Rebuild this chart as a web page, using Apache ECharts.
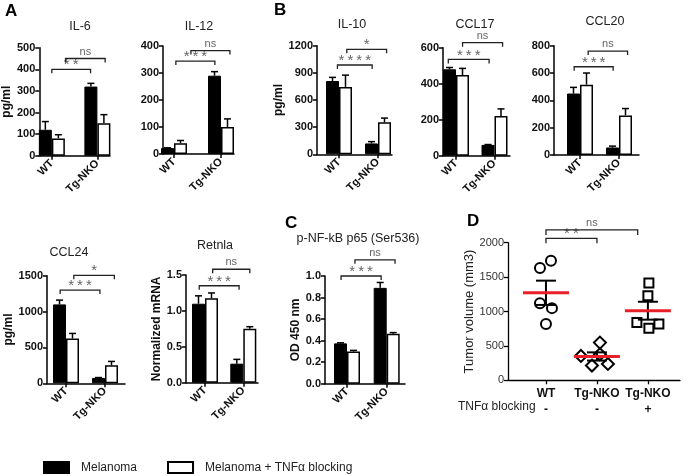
<!DOCTYPE html>
<html><head><meta charset="utf-8">
<script src="https://cdn.jsdelivr.net/npm/echarts/dist/echarts.min.js"></script>
<style>html,body{margin:0;padding:0;background:#fff}#c{width:683px;height:476px}</style>
</head><body><div id="c"></div>
<script>
// ---------- DATA ----------
const groups = ['WT', 'Tg-NKO'];
const seriesNames = ['Melanoma', 'Melanoma + TNFα blocking'];

const il6Mel = [120, 320], il6MelErr = [158, 335], il6Blk = [80, 150], il6BlkErr = [97, 190];
const il6Sig = ['**', 'ns'], il6SigY = [400, 450];

const il12Mel = [22, 290], il12MelErr = [23, 305], il12Blk = [40, 100], il12BlkErr = [50, 130];
const il12Sig = ['***', 'ns'], il12SigY = [344, 383];

const il10Mel = [810, 120], il10MelErr = [850, 140], il10Blk = [745, 355], il10BlkErr = [875, 400];
const il10Sig = ['****', '*'], il10SigY = [987, 1160];

const ccl17Mel = [480, 60], ccl17MelErr = [490, 62], ccl17Blk = [448, 220], ccl17BlkErr = [485, 260];
const ccl17Sig = ['***', 'ns'], ccl17SigY = [535, 628];

const ccl20Mel = [450, 55], ccl20MelErr = [495, 65], ccl20Blk = [515, 290], ccl20BlkErr = [600, 340];
const ccl20Sig = ['***', 'ns'], ccl20SigY = [646, 761];

const ccl24Mel = [1100, 75], ccl24MelErr = [1160, 80], ccl24Blk = [625, 250], ccl24BlkErr = [695, 305];
const ccl24Sig = ['***', '*'], ccl24SigY = [1300, 1505];

const retMel = [1.10, 0.265], retMelErr = [1.21, 0.325], retBlk = [1.175, 0.75], retBlkErr = [1.25, 0.78];
const retSig = ['***', 'ns'], retSigY = [1.35, 1.58];

const nfMel = [0.375, 0.89], nfMelErr = [0.38, 0.94], nfBlk = [0.30, 0.465], nfBlkErr = [0.31, 0.475];
const nfSig = ['***', 'ns'], nfSigY = [1.0, 1.15];

// Panel D
const dGroups = ['WT', 'Tg-NKO', 'Tg-NKO'];
const tnfBlocking = ['-', '-', '+'];
const dWT = [1631, 1738, 1121, 1049, 820];
const dTg = [548, 354, 379, 214, 238];
const dTgBlk = [1413, 1228, 840, 757, 820];
const dSig = ['**', 'ns'], dSigY = [2064, 2185];

// ---------- LAYOUT / STYLE ----------
const FF = '"Liberation Sans", Arial, sans-serif';
const BW = 13;
// a: y-axis x, c0/c1: pixel centres of the two groups, r: x-axis end
const panels = [
  {title:'IL-6', yName:'pg/ml', max:500, step:100, dec:0, mel:il6Mel, melE:il6MelErr, blk:il6Blk, blkE:il6BlkErr, sig:il6Sig, sigY:il6SigY,
   L:{a:37, c0:50, c1:97, r:110, t:47.7, b:155.7, tx:80, ty:27, ng:20}, spans:[[0,0.85],[0.30,1.17]]},
  {title:'IL-12', yName:'', max:400, step:100, dec:0, mel:il12Mel, melE:il12MelErr, blk:il12Blk, blkE:il12BlkErr, sig:il12Sig, sigY:il12SigY,
   L:{a:163, c0:174, c1:221, r:234, t:46, b:154, tx:199, ty:27, ng:20}, spans:[[0.04,0.87],[0.36,1.19]]},
  {title:'IL-10', yName:'pg/ml', max:1200, step:300, dec:0, mel:il10Mel, melE:il10MelErr, blk:il10Blk, blkE:il10BlkErr, sig:il10Sig, sigY:il10SigY,
   L:{a:317, c0:339, c1:378, r:392, t:45.7, b:154.3, tx:352, ty:25, ng:23}, spans:[[-0.04,0.85],[0.2,1.22]]},
  {title:'CCL17', yName:'', max:600, step:200, dec:0, mel:ccl17Mel, melE:ccl17MelErr, blk:ccl17Blk, blkE:ccl17BlkErr, sig:ccl17Sig, sigY:ccl17SigY,
   L:{a:443, c0:456, c1:494.5, r:510, t:47.7, b:155.7, tx:475, ty:25, ng:20}, spans:[[-0.2,0.86],[0.17,1.21]]},
  {title:'CCL20', yName:'', max:800, step:200, dec:0, mel:ccl20Mel, melE:ccl20MelErr, blk:ccl20Blk, blkE:ccl20BlkErr, sig:ccl20Sig, sigY:ccl20SigY,
   L:{a:554, c0:580, c1:619, r:639, t:45.7, b:155, tx:605, ty:22, ng:20}, spans:[[-0.15,0.85],[0.21,1.22]]},
  {title:'CCL24', yName:'pg/ml', max:1500, step:500, dec:0, mel:ccl24Mel, melE:ccl24MelErr, blk:ccl24Blk, blkE:ccl24BlkErr, sig:ccl24Sig, sigY:ccl24SigY,
   L:{a:47, c0:66, c1:105, r:125, t:275.7, b:383.3, tx:69, ty:253, ng:28}, spans:[[-0.15,0.87],[0.2,1.24]]},
  {title:'Retnla', yName:'Normalized mRNA', max:1.5, step:0.5, dec:1, mel:retMel, melE:retMelErr, blk:retBlk, blkE:retBlkErr, sig:retSig, sigY:retSigY,
   L:{a:186, c0:205, c1:243.3, r:258, t:275, b:382.7, tx:215, ty:246, ng:22}, spans:[[-0.15,0.89],[0.2,1.17]]},
  {title:'p-NF-kB p65 (Ser536)', yName:'OD 450 nm', max:1.0, step:0.2, dec:1, mel:nfMel, melE:nfMelErr, blk:nfBlk, blkE:nfBlkErr, sig:nfSig, sigY:nfSigY,
   L:{a:325, c0:347, c1:386.7, r:405, t:276, b:383.8, tx:358, ty:239, ng:21}, spans:[[-0.15,0.86],[0.2,1.21]]}
];
const dSpans = [[0, 1], [0, 1.8]];
const letters = [['A',5,3],['B',274,2],['C',285,215],['D',467,213]];

function errSeries(gi, vals, errs, side) {
  return {
    type:'custom', xAxisIndex:gi, yAxisIndex:gi, z:5, silent:true,
    data: vals.map((v, k) => [k, v, errs[k]]),
    encode:{x:0, y:[1,2]},
    renderItem: (params, api) => {
      const p = api.coord([api.value(0), api.value(1)]);
      const q = api.coord([api.value(0), api.value(2)]);
      const x = p[0] + side * BW / 2;
      return {type:'group', children:[
        {type:'line', shape:{x1:x, y1:p[1], x2:x, y2:q[1]}, style:{stroke:'#000', lineWidth:1.5}},
        {type:'line', shape:{x1:x-3.5, y1:q[1], x2:x+3.5, y2:q[1]}, style:{stroke:'#000', lineWidth:1.5}}
      ]};
    }
  };
}
function bracketSeries(gi, labels, ys, spans, drop) {
  return {
    type:'custom', xAxisIndex:gi, yAxisIndex:gi, z:6, silent:true, clip:false,
    data: ys.map(y => [0, y]),
    encode:{x:0, y:1},
    renderItem: (params, api) => {
      const i = params.dataIndex;
      const y = api.value(1);
      const c0 = api.coord([0, y]), c1 = api.coord([1, y]);
      const x0 = c0[0] + spans[i][0] * (c1[0] - c0[0]);
      const x1 = c0[0] + spans[i][1] * (c1[0] - c0[0]);
      const yy = c0[1];
      const isStar = labels[i].indexOf('*') >= 0;
      const txt = isStar ? labels[i].split('').join('\u2009') : labels[i];
      return {type:'group', children:[
        {type:'polyline', shape:{points:[[x0,yy+drop],[x0,yy],[x1,yy],[x1,yy+drop]]}, style:{stroke:'#222', lineWidth:1.3, fill:null}},
        {type:'text', x:(x0+x1)/2, y: isStar ? yy - 4 : yy - 1.5,
         style:{text:txt, align:'center', verticalAlign: isStar ? 'middle' : 'bottom', fill:'#666',
                font: isStar ? '15px ' + FF : '11px ' + FF}}
      ]};
    }
  };
}

const grids = [], xAxes = [], yAxes = [], series = [], graphics = [];
const gIdx = groups.map((g, k) => k);
panels.forEach((p, i) => {
  const L = p.L;
  const unit = L.c1 - L.c0;
  grids.push({left:L.a, top:L.t, width:L.r - L.a, height:L.b - L.t});
  xAxes.push({type:'value', gridIndex:i, min:-(L.c0 - L.a) / unit, max:1 + (L.r - L.c1) / unit,
    splitLine:{show:false},
    axisLine:{show:true, onZero:false, lineStyle:{color:'#000', width:1.5}},
    axisTick:{show:true, customValues:gIdx, length:4, lineStyle:{color:'#000', width:1.5}},
    axisLabel:{customValues:gIdx, rotate:45, fontSize:11, fontWeight:'bold', color:'#111', margin:6, fontFamily:FF,
      formatter: v => groups[Math.round(v)]}});
  yAxes.push({type:'value', gridIndex:i, min:0, max:p.max, interval:p.step,
    name:p.yName, nameLocation:'middle', nameGap:L.ng,
    nameTextStyle:{fontSize:12, fontWeight:'bold', color:'#111', fontFamily:FF},
    axisLine:{show:true, onZero:false, lineStyle:{color:'#000', width:1.5}},
    axisTick:{show:true, length:4, lineStyle:{color:'#000', width:1.5}},
    splitLine:{show:false},
    axisLabel:{fontSize:11, fontWeight:'bold', color:'#111', margin:4, fontFamily:FF,
      formatter: v => v.toFixed(p.dec)}});
  series.push({type:'bar', name:seriesNames[0], xAxisIndex:i, yAxisIndex:i, data:p.mel.map((v, k) => [k, v]), barWidth:BW, barGap:'0%',
    itemStyle:{color:'#000', borderColor:'#000', borderWidth:1}});
  series.push({type:'bar', name:seriesNames[1], xAxisIndex:i, yAxisIndex:i, data:p.blk.map((v, k) => [k, v]), barWidth:BW, barGap:'0%',
    itemStyle:{color:'#fff', borderColor:'#000', borderWidth:1.5}});
  series.push(errSeries(i, p.mel, p.melE, -1));
  series.push(errSeries(i, p.blk, p.blkE, 1));
  series.push(bracketSeries(i, p.sig, p.sigY, p.spans, 4));
  graphics.push({type:'text', x:L.tx, y:L.ty, style:{text:p.title, align:'center', verticalAlign:'middle', font:'12.5px ' + FF, fill:'#222'}});
});

// Panel D
const di = panels.length;
const dIdx = dGroups.map((g, k) => k);
grids.push({left:508, top:242.7, width:172, height:137.6});
xAxes.push({type:'value', gridIndex:di, min:-0.745, max:2.63,
  splitLine:{show:false},
  axisLine:{show:true, onZero:false, lineStyle:{color:'#000', width:1.3}},
  axisTick:{show:true, customValues:dIdx, length:4, lineStyle:{color:'#000', width:1.3}},
  axisLabel:{customValues:dIdx, margin:5, color:'#111', fontFamily:FF,
    formatter:(v) => '{g|' + dGroups[Math.round(v)] + '}\n{t|' + tnfBlocking[Math.round(v)] + '}',
    rich:{g:{fontSize:12, fontWeight:'bold', lineHeight:16, fontFamily:FF, color:'#111'},
          t:{fontSize:12, fontWeight:'bold', lineHeight:16, fontFamily:FF, color:'#111'}}}});
yAxes.push({type:'value', gridIndex:di, min:0, max:2000, interval:500,
  name:'Tumor volume (mm3)', nameLocation:'middle', nameGap:27,
  nameTextStyle:{fontSize:13, color:'#222', fontFamily:FF},
  axisLine:{show:true, onZero:false, lineStyle:{color:'#000', width:1.3}},
  axisTick:{show:true, length:4, lineStyle:{color:'#000', width:1.3}},
  splitLine:{show:false},
  axisLabel:{fontSize:11, color:'#333', margin:4, fontFamily:FF, formatter: v => String(v)}});
const jitter = [[-6, 5, -6, 6, 0], [3, -16, 3, -5, 11], [1, 0, -11, 1, 11]];
const dSets = [dWT, dTg, dTgBlk];
const dSymbols = [['circle', 10], ['diamond', 12], ['rect', 9]];
dSets.forEach((arr, g) => {
  series.push({type:'scatter', xAxisIndex:di, yAxisIndex:di, symbol:dSymbols[g][0], symbolSize:dSymbols[g][1], z:3,
    itemStyle:{color:'#fff', borderColor:'#000', borderWidth:2, opacity:1},
    data: arr.map((v, k) => ({value:[g, v], symbolOffset:[jitter[g][k], 0]}))});
});
function mean(a){ return a.reduce((s, v) => s + v, 0) / a.length; }
function sem(a){ const m = mean(a); return Math.sqrt(a.reduce((s, v) => s + (v - m) * (v - m), 0) / (a.length - 1) / a.length); }
series.push({type:'custom', xAxisIndex:di, yAxisIndex:di, z:6, silent:true,
  data: dSets.map((a, g) => [g, mean(a), mean(a) - sem(a), mean(a) + sem(a)]),
  encode:{x:0, y:[1,2,3]},
  renderItem:(params, api) => {
    const m = api.coord([api.value(0), api.value(1)]);
    const lo = api.coord([api.value(0), api.value(2)]);
    const hi = api.coord([api.value(0), api.value(3)]);
    const x = m[0];
    return {type:'group', children:[
      {type:'line', shape:{x1:x, y1:lo[1], x2:x, y2:hi[1]}, style:{stroke:'#000', lineWidth:2}},
      {type:'line', shape:{x1:x-10, y1:lo[1], x2:x+10, y2:lo[1]}, style:{stroke:'#000', lineWidth:2}},
      {type:'line', shape:{x1:x-10, y1:hi[1], x2:x+10, y2:hi[1]}, style:{stroke:'#000', lineWidth:2}},
      {type:'line', shape:{x1:x-23, y1:m[1], x2:x+23, y2:m[1]}, style:{stroke:'#e8202a', lineWidth:3}}
    ]};
  }});
series.push(bracketSeries(di, dSig, dSigY, dSpans, 5));
graphics.push({type:'text', x:458, y:407, style:{text:'TNFα blocking', align:'left', verticalAlign:'middle', font:'12px ' + FF, fill:'#222'}});

letters.forEach(l => graphics.push({type:'text', x:l[1], y:l[2], style:{text:l[0], align:'left', verticalAlign:'top', font:'bold 17px ' + FF, fill:'#000'}}));

const chart = echarts.init(document.getElementById('c'), null, {renderer:'canvas'});
chart.setOption({
  animation:false,
  backgroundColor:'#fff',
  grid:grids, xAxis:xAxes, yAxis:yAxes, series:series, graphic:graphics,
  legend:{data:seriesNames, left:43, top:461, padding:0, icon:'rect', itemWidth:25, itemHeight:11, itemGap:30, selectedMode:false,
    textStyle:{fontSize:12, color:'#222', fontFamily:FF, padding:[0,0,0,7]}}
});
</script></body></html>
